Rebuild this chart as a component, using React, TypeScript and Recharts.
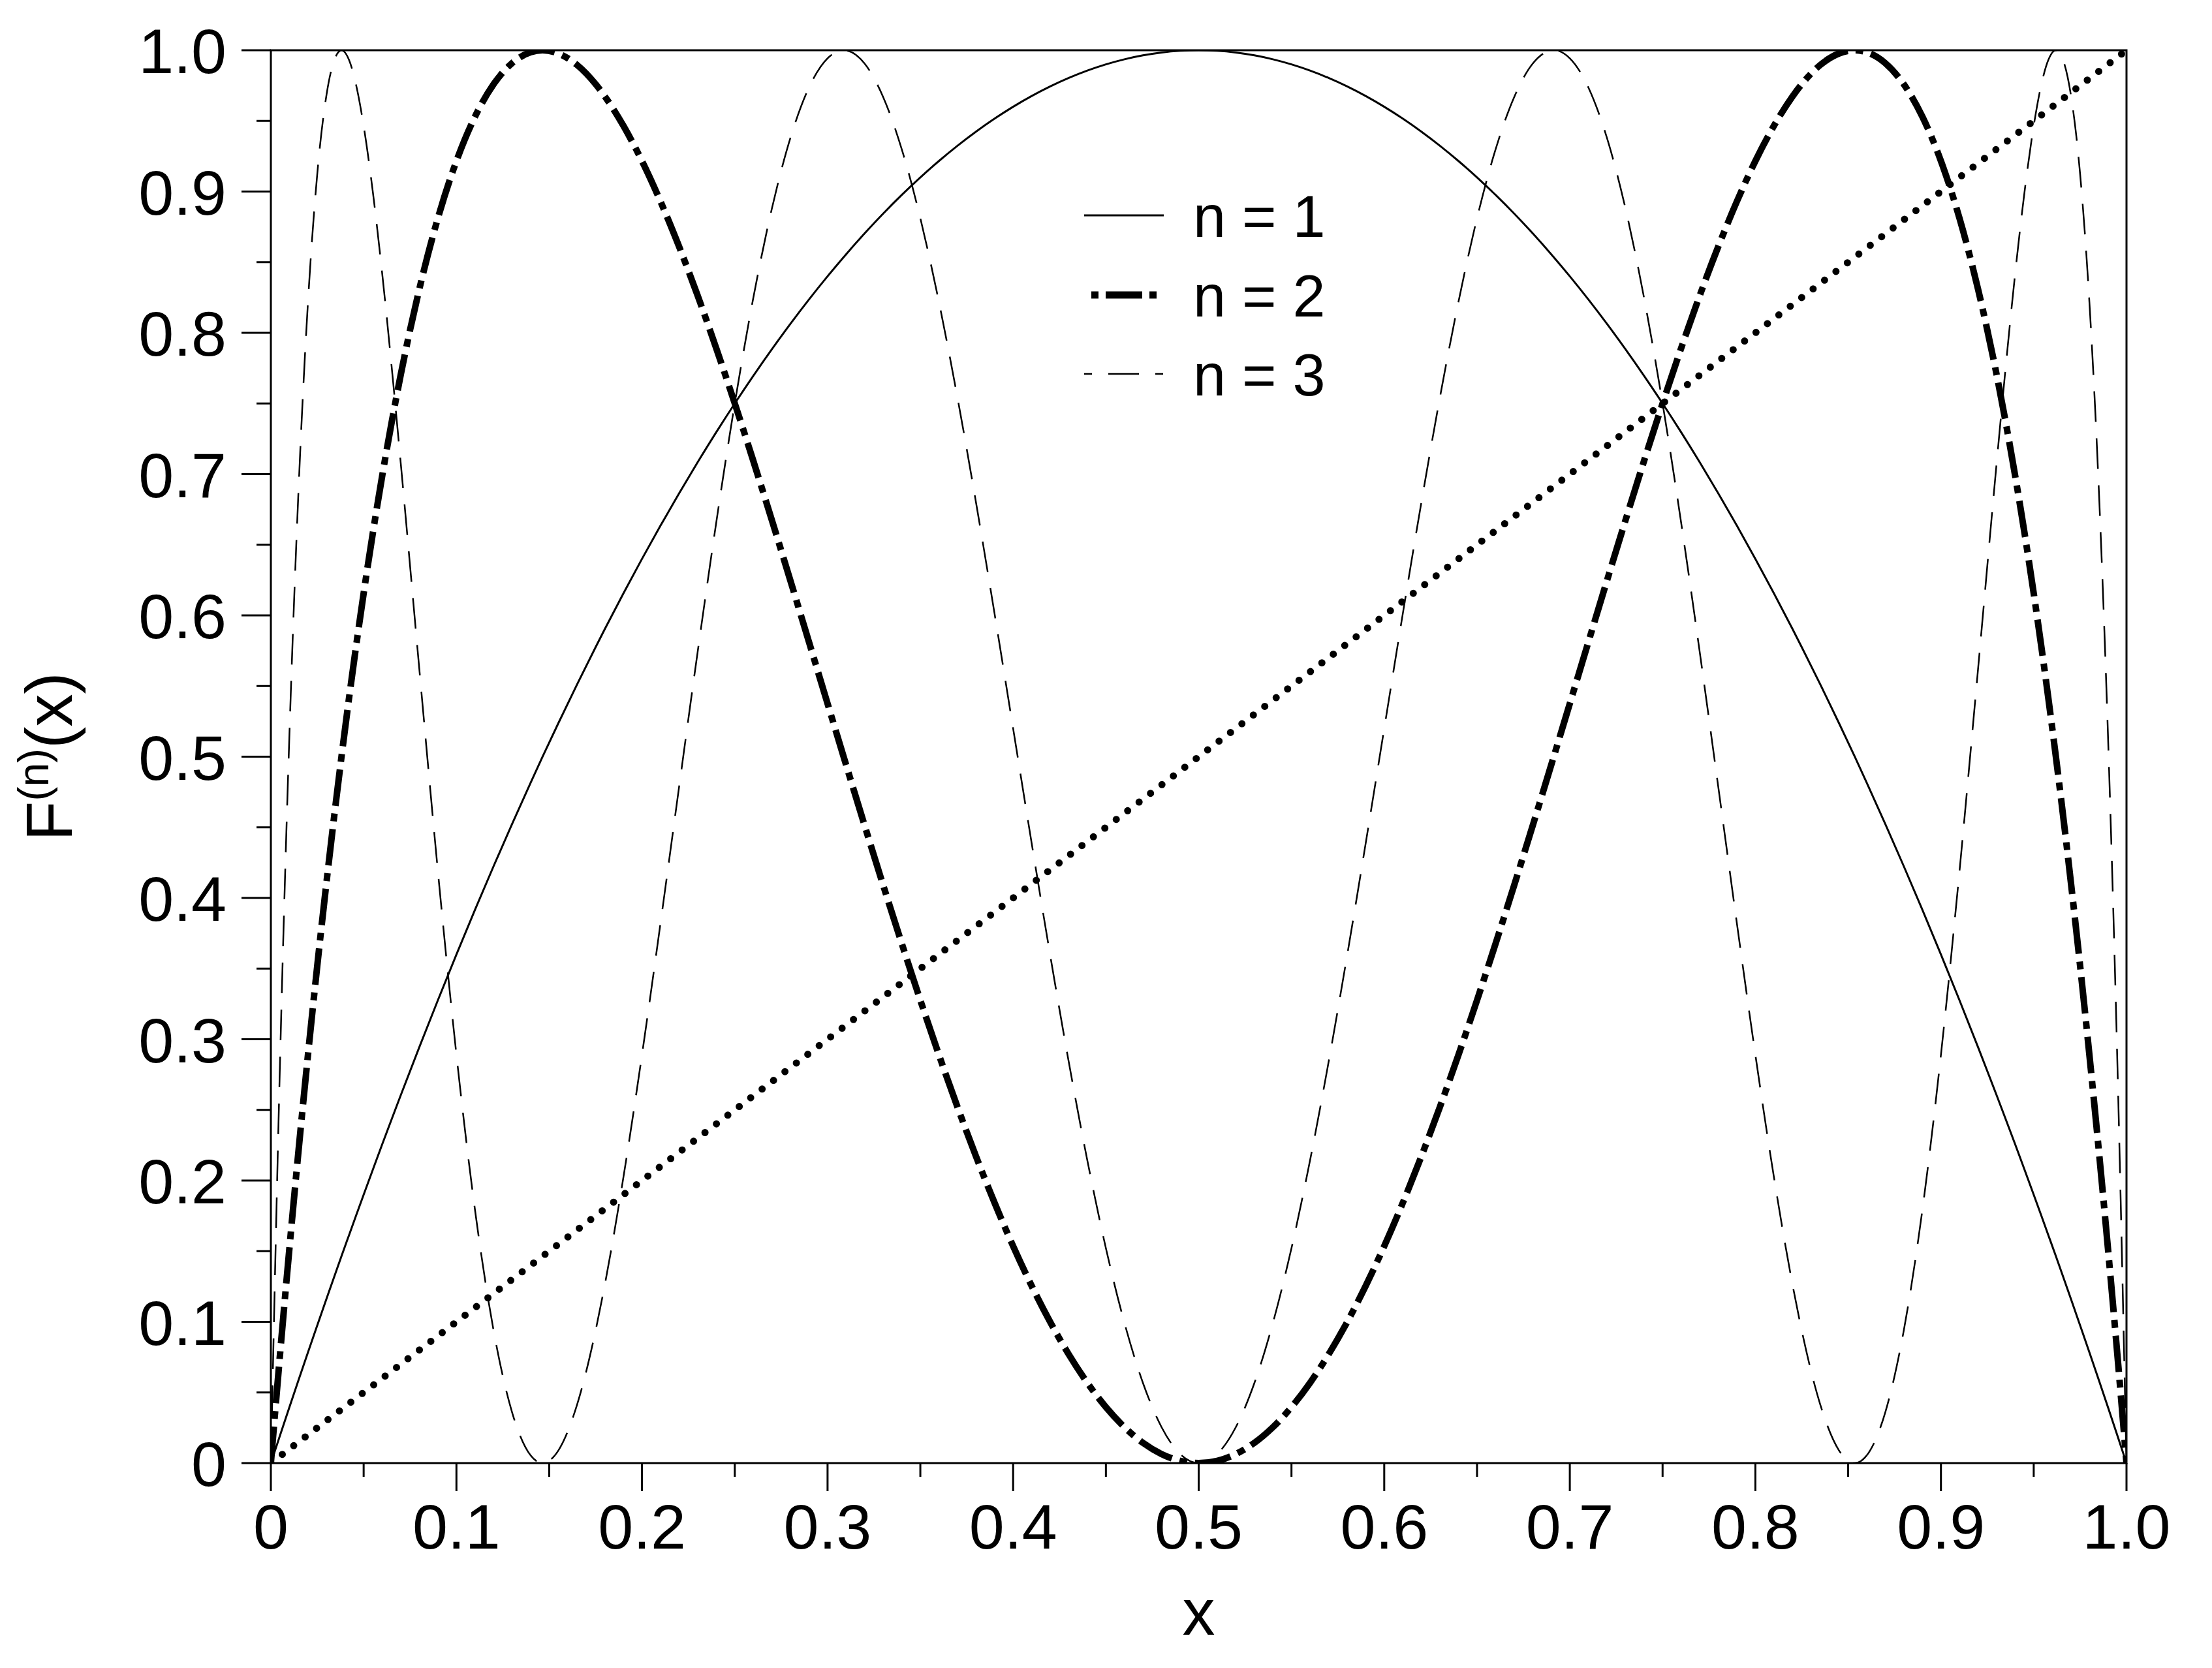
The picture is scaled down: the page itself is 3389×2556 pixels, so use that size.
import React from 'react';
import { LineChart, Line, XAxis, YAxis, ReferenceArea, Legend } from 'recharts';

// x positions read along the horizontal axis
const xValues = [0, 0.005, 0.01, 0.015, 0.02, 0.025, 0.03, 0.035, 0.0381, 0.042, 0.046, 0.05, 0.055, 0.06, 0.065, 0.07, 0.08, 0.09, 0.1, 0.11, 0.12, 0.13, 0.14, 0.1464, 0.155, 0.165, 0.175, 0.18, 0.19, 0.2, 0.21, 0.22, 0.23, 0.24, 0.25, 0.26, 0.27, 0.28, 0.29, 0.3, 0.3087, 0.32, 0.33, 0.34, 0.35, 0.36, 0.37, 0.38, 0.39, 0.4, 0.41, 0.42, 0.43, 0.44, 0.45, 0.46, 0.47, 0.48, 0.49, 0.5,
  0.51, 0.52, 0.53, 0.54, 0.55, 0.56, 0.57, 0.58, 0.59, 0.6, 0.61, 0.62, 0.63, 0.64, 0.65, 0.66, 0.67, 0.68, 0.6913, 0.7, 0.71, 0.72, 0.73, 0.74, 0.75, 0.76, 0.77, 0.78, 0.79, 0.8, 0.81, 0.82, 0.825, 0.835, 0.845, 0.8536, 0.86, 0.87, 0.88, 0.89, 0.9, 0.91, 0.92, 0.93, 0.935, 0.94, 0.945, 0.95, 0.954, 0.958, 0.9619, 0.965, 0.97, 0.975, 0.98, 0.985, 0.99, 0.995, 1];

// n = 1
const f1Values = [0, 0.0199, 0.0396, 0.0591, 0.0784, 0.0975, 0.1164, 0.1351, 0.1466, 0.1609, 0.1755, 0.19, 0.2079, 0.2256, 0.2431, 0.2604, 0.2944, 0.3276, 0.36, 0.3916, 0.4224, 0.4524, 0.4816, 0.4999, 0.5239, 0.5511, 0.5775, 0.5904, 0.6156, 0.64, 0.6636, 0.6864, 0.7084, 0.7296, 0.75, 0.7696, 0.7884, 0.8064, 0.8236, 0.84, 0.8536, 0.8704, 0.8844, 0.8976, 0.91, 0.9216, 0.9324, 0.9424, 0.9516, 0.96, 0.9676, 0.9744, 0.9804, 0.9856, 0.99, 0.9936, 0.9964, 0.9984, 0.9996, 1,
  0.9996, 0.9984, 0.9964, 0.9936, 0.99, 0.9856, 0.9804, 0.9744, 0.9676, 0.96, 0.9516, 0.9424, 0.9324, 0.9216, 0.91, 0.8976, 0.8844, 0.8704, 0.8536, 0.84, 0.8236, 0.8064, 0.7884, 0.7696, 0.75, 0.7296, 0.7084, 0.6864, 0.6636, 0.64, 0.6156, 0.5904, 0.5775, 0.5511, 0.5239, 0.4999, 0.4816, 0.4524, 0.4224, 0.3916, 0.36, 0.3276, 0.2944, 0.2604, 0.2431, 0.2256, 0.2079, 0.19, 0.1755, 0.1609, 0.1466, 0.1351, 0.1164, 0.0975, 0.0784, 0.0591, 0.0396, 0.0199, 0];

// n = 2
const f2Values = [0, 0.078, 0.1521, 0.2224, 0.289, 0.352, 0.4114, 0.4674, 0.5004, 0.5402, 0.5789, 0.6156, 0.6587, 0.6988, 0.736, 0.7704, 0.8309, 0.8811, 0.9216, 0.953, 0.9759, 0.9909, 0.9986, 1, 0.9977, 0.9896, 0.976, 0.9673, 0.9465, 0.9216, 0.8929, 0.861, 0.8263, 0.7891, 0.75, 0.7093, 0.6673, 0.6245, 0.5811, 0.5376, 0.4998, 0.4512, 0.4089, 0.3677, 0.3276, 0.289, 0.2521, 0.2171, 0.1842, 0.1536, 0.1254, 0.0998, 0.0769, 0.0568, 0.0396, 0.0254, 0.0143, 0.0064, 0.0016, 0,
  0.0016, 0.0064, 0.0143, 0.0254, 0.0396, 0.0568, 0.0769, 0.0998, 0.1254, 0.1536, 0.1842, 0.2171, 0.2521, 0.289, 0.3276, 0.3677, 0.4089, 0.4512, 0.4998, 0.5376, 0.5811, 0.6245, 0.6673, 0.7093, 0.75, 0.7891, 0.8263, 0.861, 0.8929, 0.9216, 0.9465, 0.9673, 0.976, 0.9896, 0.9977, 1, 0.9986, 0.9909, 0.9759, 0.953, 0.9216, 0.8811, 0.8309, 0.7704, 0.736, 0.6988, 0.6587, 0.6156, 0.5789, 0.5402, 0.5004, 0.4674, 0.4114, 0.352, 0.289, 0.2224, 0.1521, 0.078, 0];

// n = 3
const f3Values = [0, 0.2877, 0.5159, 0.6918, 0.8219, 0.9124, 0.9686, 0.9957, 1, 0.9935, 0.9751, 0.9465, 0.8992, 0.8419, 0.7772, 0.7076, 0.562, 0.419, 0.289, 0.1792, 0.094, 0.0359, 0.0054, 0, 0.0091, 0.0413, 0.0938, 0.1265, 0.2024, 0.289, 0.3824, 0.4787, 0.5742, 0.6656, 0.75, 0.8248, 0.888, 0.938, 0.9737, 0.9943, 1, 0.9905, 0.9668, 0.9299, 0.8811, 0.8219, 0.7542, 0.6799, 0.6012, 0.52, 0.4387, 0.3593, 0.2838, 0.2142, 0.1521, 0.0992, 0.0566, 0.0254, 0.0064, 0,
  0.0064, 0.0254, 0.0566, 0.0992, 0.1521, 0.2142, 0.2838, 0.3593, 0.4387, 0.52, 0.6012, 0.6799, 0.7542, 0.8219, 0.8811, 0.9299, 0.9668, 0.9905, 1, 0.9943, 0.9737, 0.938, 0.888, 0.8248, 0.75, 0.6656, 0.5742, 0.4787, 0.3824, 0.289, 0.2024, 0.1265, 0.0938, 0.0413, 0.0091, 0, 0.0054, 0.0359, 0.094, 0.1792, 0.289, 0.419, 0.562, 0.7076, 0.7772, 0.8419, 0.8992, 0.9465, 0.9751, 0.9935, 1, 0.9957, 0.9686, 0.9124, 0.8219, 0.6918, 0.5159, 0.2877, 0];

// dotted diagonal
const diagX = [0, 1];
const diagY = [0, 1];

// axis ticks (labels on every second one)
const tickValues = [0, 0.05, 0.1, 0.15, 0.2, 0.25, 0.3, 0.35, 0.4, 0.45, 0.5, 0.55, 0.6, 0.65, 0.7, 0.75, 0.8, 0.85, 0.9, 0.95, 1];

const seriesNames = ['n = 1', 'n = 2', 'n = 3'];

const data = xValues.map((x, i) => ({ x, f1: f1Values[i], f2: f2Values[i], f3: f3Values[i] }));
const diagData = diagX.map((x, i) => ({ x, d: diagY[i] }));

const FONT = '"Liberation Sans", Arial, Helvetica, sans-serif';

const isMajor = (v: number) => Math.round(v * 100) % 10 === 0;
const fmt = (v: number) => (v === 0 ? '0' : v.toFixed(1));

const XTick = (props: any) => {
  const { x, y, payload } = props;
  const v = payload.value;
  const major = isMajor(v);
  return (
    <g>
      <line x1={x} y1={y} x2={x} y2={y + (major ? 43 : 21)} stroke="#000" strokeWidth={3} />
      {major && (
        <text x={x} y={y + 131} textAnchor="middle" fontSize={97} fontFamily={FONT} fill="#000">
          {fmt(v)}
        </text>
      )}
    </g>
  );
};

const YTick = (props: any) => {
  const { x, y, payload } = props;
  const v = payload.value;
  const major = isMajor(v);
  return (
    <g>
      <line x1={x - (major ? 45 : 22)} y1={y} x2={x} y2={y} stroke="#000" strokeWidth={3} />
      {major && (
        <text x={x - 68} y={y + 35} textAnchor="end" fontSize={97} fontFamily={FONT} fill="#000">
          {fmt(v)}
        </text>
      )}
    </g>
  );
};

const legendStyles: Record<string, { w: number; dash?: string; x1: number; x2: number }> = {
  f1: { w: 3, x1: 13, x2: 135 },
  f2: { w: 11, dash: '11 11 56 11', x1: 24, x2: 124 },
  f3: { w: 2.5, dash: '12 25 47 25', x1: 13, x2: 135 },
};

const LegendContent = (props: any) => {
  const payload = (props.payload || []).filter((p: any) => legendStyles[p.dataKey]);
  const rows = [52, 174, 295];
  return (
    <svg width={480} height={360}>
      {payload.map((p: any, i: number) => {
        const st = legendStyles[p.dataKey];
        const y = rows[i];
        return (
          <g key={p.dataKey}>
            <line x1={st.x1} x2={st.x2} y1={y} y2={y} stroke="#000" strokeWidth={st.w} strokeDasharray={st.dash} />
            <text x={180} y={y + 33} fontSize={90} fontFamily={FONT} fill="#000">
              {p.value}
            </text>
          </g>
        );
      })}
    </svg>
  );
};

export default function App() {
  return (
    <LineChart width={3370} height={2530} margin={{ top: 69, right: 120, bottom: 0, left: 0 }}>
      <XAxis
        dataKey="x"
        type="number"
        domain={[0, 1]}
        allowDataOverflow
        ticks={tickValues}
        interval={0}
        tickSize={0}
        tickMargin={0}
        tickLine={false}
        axisLine={false}
        height={296}
        tick={<XTick />}
        label={{
          content: (p: any) => {
            const vb = p.viewBox;
            return (
              <text x={vb.x + vb.width / 2} y={vb.y + 263} textAnchor="middle" fontSize={100} fontFamily={FONT} fill="#000">
                x
              </text>
            );
          },
        }}
      />
      <YAxis
        type="number"
        domain={[0, 1]}
        allowDataOverflow
        ticks={tickValues}
        interval={0}
        tickSize={0}
        tickMargin={0}
        tickLine={false}
        axisLine={false}
        width={407}
        tick={<YTick />}
        label={{
          content: (p: any) => {
            const vb = p.viewBox;
            const cx = 102;
            const cy = vb.y + vb.height / 2;
            return (
              <text x={cx} y={cy} transform={`rotate(-90, ${cx}, ${cy})`} textAnchor="middle" fontSize={100} fontFamily={FONT} fill="#000">
                F
                <tspan fontSize={66} dy={-36}>(n)</tspan>
                <tspan fontSize={100} dy={36}>(x)</tspan>
              </text>
            );
          },
        }}
      />
      <ReferenceArea x1={0} x2={1} y1={0} y2={1} fill="none" stroke="#000" strokeWidth={3} ifOverflow="visible" />
      <Line data={diagData} dataKey="d" type="linear" stroke="#000" strokeWidth={11} strokeDasharray="0 22" strokeLinecap="round" dot={false} activeDot={false} isAnimationActive={false} legendType="none" />
      <Line data={data} dataKey="f1" name={seriesNames[0]} type="monotoneX" stroke="#000" strokeWidth={3} dot={false} activeDot={false} isAnimationActive={false} />
      <Line data={data} dataKey="f2" name={seriesNames[1]} type="monotoneX" stroke="#000" strokeWidth={10} strokeDasharray="56 12 12 12" dot={false} activeDot={false} isAnimationActive={false} />
      <Line data={data} dataKey="f3" name={seriesNames[2]} type="monotoneX" stroke="#000" strokeWidth={2.5} strokeDasharray="47 25" dot={false} activeDot={false} isAnimationActive={false} />
      <Legend
        layout="vertical"
        align="center"
        verticalAlign="middle"
        content={<LegendContent />}
        wrapperStyle={{ position: 'absolute', left: 1640, top: 270, width: 480, height: 360 }}
      />
    </LineChart>
  );
}
